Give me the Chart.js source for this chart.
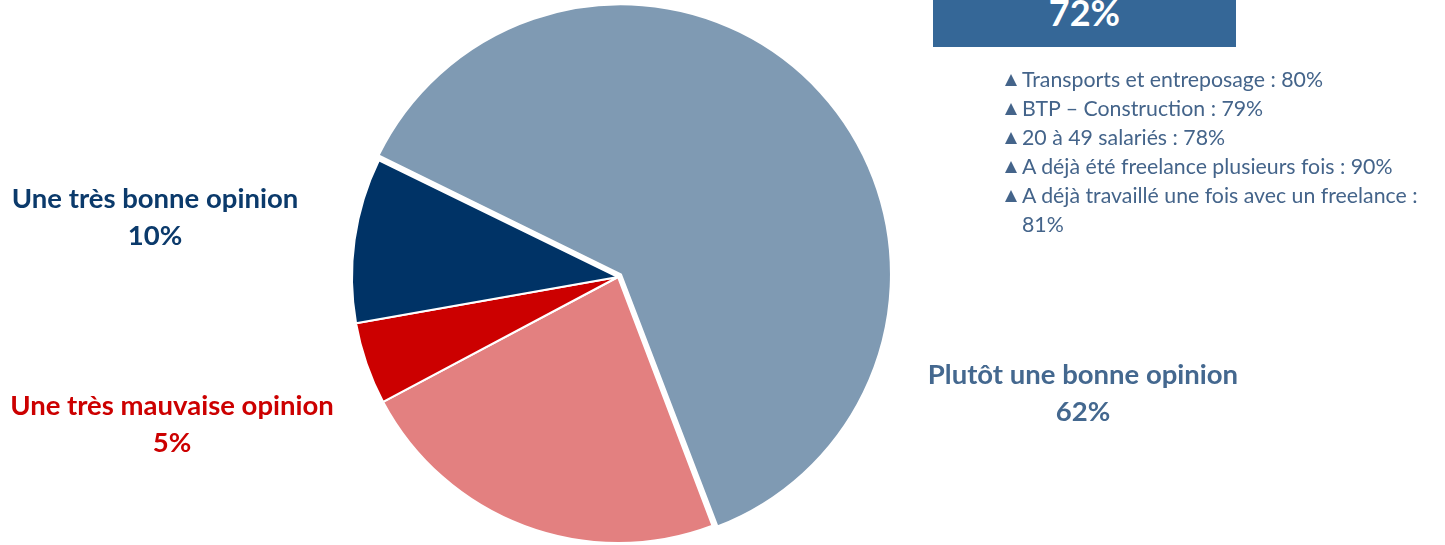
<!DOCTYPE html>
<html>
<head>
<meta charset="utf-8">
<script src="https://cdn.jsdelivr.net/npm/chart.js@4/dist/chart.umd.min.js"></script>
<style>
  body { margin: 0; width: 1445px; height: 545px; overflow: hidden; background: #fff; font-family: Lato, "Open Sans", sans-serif; }
  #wrap { position: absolute; left: 0; top: 0; width: 1445px; height: 545px; }
  .lbl { position: absolute; font-weight: bold; font-size: 27.5px; text-align: center; line-height: 37px; white-space: nowrap; transform: translateX(-50%); }
  #box { position: absolute; left: 933px; top: 0; width: 303px; height: 47px; background: #356797; overflow: hidden; }
  #box span { position: absolute; left: 0; width: 100%; text-align: center; top: -6px; color: #fff; font-weight: bold; font-size: 36px; line-height: 36px; }
  #list { position: absolute; left: 1004px; top: 65px; margin: 0; padding: 0; list-style: none; color: #44648a; font-size: 21.3px; line-height: 29px; }
  #list li { position: relative; padding-left: 18px; width: 423px; }
  #list li:before { content: ""; position: absolute; left: 1px; top: 9px; width: 0; height: 0; border-left: 6.5px solid transparent; border-right: 6.5px solid transparent; border-bottom: 12px solid #44648a; }
</style>
</head>
<body>
<div id="wrap"><canvas id="pie"></canvas></div>
<div id="box"><span id="total"></span></div>
<ul id="list"></ul>
<script>
const categories = ['Plutôt une bonne opinion', 'Plutôt une mauvaise opinion', 'Une très mauvaise opinion', 'Une très bonne opinion'];
const values = [62, 23, 5, 10];
const colors = ['#7f9ab3', '#e38080', '#cc0000', '#003366'];
const labelColors = ['#44688f', '#e38080', '#cc0000', '#0b3a6b'];
const totalGood = '72%';
const details = [
  'Transports et entreposage : 80%',
  'BTP – Construction : 79%',
  '20 à 49 salariés : 78%',
  'A déjà été freelance plusieurs fois : 90%',
  'A déjà travaillé une fois avec un freelance : 81%'
];

// where the slice labels sit (center x, top y); the 2nd one is off the picture
const labelPos = [[1083, 355], null, [172, 386], [155, 179]];

document.getElementById('total').textContent = totalGood;
const list = document.getElementById('list');
details.forEach(d => {
  const li = document.createElement('li');
  li.textContent = d;
  list.appendChild(li);
});

categories.forEach((c, i) => {
  if (!labelPos[i]) return;
  const div = document.createElement('div');
  div.className = 'lbl';
  div.style.left = labelPos[i][0] + 'px';
  div.style.top = labelPos[i][1] + 'px';
  div.style.color = labelColors[i];
  div.innerHTML = c + '<br>' + values[i] + '%';
  document.body.appendChild(div);
});

const ctx = document.getElementById('pie').getContext('2d');
new Chart(ctx, {
  type: 'pie',
  data: {
    labels: categories,
    datasets: [{
      data: values,
      backgroundColor: colors,
      borderColor: '#ffffff',
      borderWidth: 2,
      offset: [16, 0, 0, 0]   // drawn as offset/4, and the big slice also grows by that much
    }]
  },
  options: {
    responsive: true,
    maintainAspectRatio: false,
    animation: false,
    rotation: -64,
    radius: 266,
    layout: { padding: { left: 0, right: 209, top: 9, bottom: 0 } },
    plugins: { legend: { display: false }, tooltip: { enabled: false } }
  }
});
</script>
</body>
</html>
